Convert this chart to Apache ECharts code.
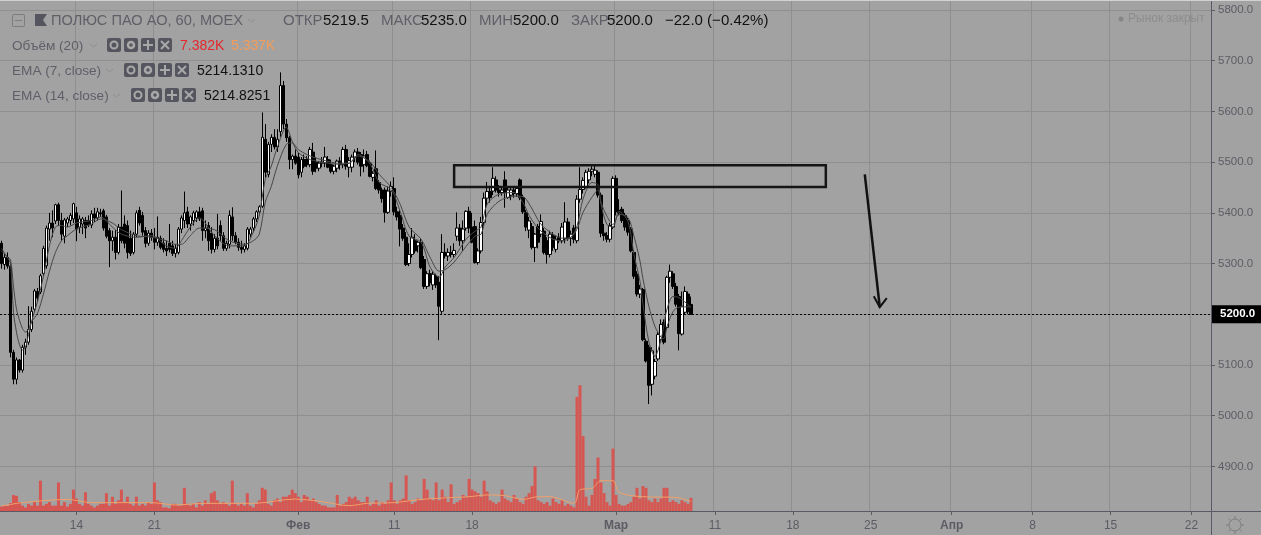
<!DOCTYPE html>
<html><head><meta charset="utf-8">
<style>html,body{margin:0;padding:0;background:#a2a2a2}#c{width:1261px;height:535px}</style>
<script src="https://cdn.jsdelivr.net/npm/echarts@6/dist/echarts.min.js"></script>
</head><body><div id="c"></div>
<script>
// open, high, low, close per hourly bar
const ohlc = [
[5340,5345,5290,5300],[5298,5320,5288,5312],[5312,5322,5290,5295],[5295,5300,5115,5125],[5125,5130,5062,5072],
[5072,5115,5062,5110],[5110,5112,5085,5090],[5090,5140,5085,5135],[5135,5152,5120,5145],[5145,5216,5140,5170],
[5170,5215,5165,5206],[5210,5250,5205,5246],[5245,5252,5225,5232],[5244,5280,5240,5276],[5280,5335,5275,5330],
[5296,5375,5290,5370],[5368,5400,5345,5380],[5380,5405,5352,5370],[5384,5418,5378,5416],[5416,5420,5375,5385],
[5385,5400,5345,5358],[5354,5390,5340,5386],[5380,5392,5372,5388],[5385,5400,5375,5395],[5388,5420,5380,5418],
[5400,5412,5344,5368],[5372,5395,5360,5388],[5378,5392,5358,5388],[5385,5392,5350,5370],[5385,5395,5372,5376],
[5376,5405,5370,5398],[5398,5410,5382,5390],[5390,5410,5385,5402],[5400,5408,5392,5398],[5404,5408,5365,5370],
[5392,5396,5350,5354],[5365,5370,5293,5345],[5345,5365,5325,5352],[5352,5366,5308,5322],[5322,5378,5318,5372],
[5372,5444,5340,5345],[5378,5395,5330,5340],[5375,5385,5310,5322],[5350,5365,5315,5320],[5322,5362,5318,5358],
[5358,5405,5352,5400],[5405,5412,5375,5380],[5395,5402,5355,5362],[5365,5372,5332,5340],[5340,5366,5335,5360],
[5360,5368,5345,5352],[5352,5370,5328,5342],[5342,5393,5335,5352],[5350,5355,5328,5332],[5340,5350,5322,5328],
[5330,5345,5315,5325],[5340,5378,5322,5328],[5335,5345,5315,5320],[5320,5338,5312,5330],[5322,5372,5318,5368],
[5368,5395,5360,5390],[5385,5442,5370,5400],[5402,5412,5370,5378],[5378,5395,5365,5392],[5385,5404,5375,5400],
[5390,5405,5382,5402],[5402,5412,5384,5388],[5404,5410,5345,5365],[5365,5385,5350,5370],[5375,5382,5325,5345],
[5360,5372,5320,5328],[5328,5358,5322,5350],[5350,5398,5328,5335],[5375,5385,5345,5355],[5355,5362,5325,5330],
[5330,5345,5325,5340],[5338,5405,5330,5395],[5392,5411,5345,5355],[5355,5362,5338,5342],[5342,5350,5325,5332],
[5332,5345,5320,5328],[5328,5340,5322,5335],[5330,5372,5326,5368],[5358,5372,5352,5368],[5370,5392,5362,5388],
[5388,5405,5382,5402],[5402,5415,5395,5412],[5413,5598,5410,5549],[5545,5575,5470,5480],[5476,5540,5470,5535],
[5535,5555,5520,5549],[5549,5565,5525,5530],[5530,5565,5520,5545],[5560,5677,5550,5651],[5651,5660,5565,5575],
[5575,5585,5540,5548],[5548,5552,5486,5505],[5505,5515,5486,5512],[5512,5525,5495,5498],[5510,5518,5468,5475],
[5480,5510,5470,5505],[5505,5515,5488,5492],[5505,5512,5490,5495],[5495,5530,5490,5525],[5520,5538,5475,5482],
[5500,5510,5480,5488],[5488,5502,5482,5498],[5498,5510,5490,5500],[5498,5530,5490,5510],[5505,5512,5488,5490],
[5495,5505,5478,5482],[5482,5495,5476,5492],[5488,5505,5480,5502],[5502,5510,5485,5495],[5495,5530,5488,5525],
[5525,5534,5485,5492],[5490,5510,5470,5503],[5490,5515,5480,5510],[5510,5525,5500,5520],[5520,5528,5495,5500],
[5515,5520,5472,5492],[5495,5525,5480,5512],[5515,5522,5490,5493],[5498,5503,5470,5472],[5470,5482,5462,5478],
[5487,5523,5445,5448],[5460,5465,5438,5445],[5445,5450,5420,5428],[5445,5450,5381,5401],[5401,5452,5398,5443],
[5443,5462,5432,5452],[5448,5470,5395,5402],[5402,5412,5385,5392],[5395,5405,5334,5368],[5370,5378,5345,5350],
[5352,5362,5295,5298],[5300,5340,5295,5318],[5318,5370,5312,5352],[5345,5358,5320,5325],[5335,5345,5322,5342],
[5342,5350,5289,5292],[5308,5315,5250,5255],[5255,5285,5250,5280],[5280,5288,5255,5262],[5258,5285,5248,5279],
[5275,5280,5252,5258],[5263,5275,5149,5216],[5206,5358,5200,5322],[5322,5340,5310,5315],[5315,5330,5305,5322],
[5322,5335,5312,5318],[5318,5340,5312,5326],[5354,5401,5345,5370],[5370,5378,5335,5345],[5345,5385,5325,5368],
[5370,5405,5365,5403],[5403,5412,5360,5370],[5372,5400,5340,5342],[5373,5385,5300,5302],[5302,5330,5298,5325],
[5325,5392,5320,5381],[5381,5440,5375,5429],[5429,5461,5415,5442],[5442,5450,5420,5430],[5443,5490,5435,5468],
[5465,5472,5440,5445],[5445,5455,5432,5440],[5440,5450,5434,5445],[5465,5482,5410,5440],[5430,5452,5428,5445],
[5435,5450,5425,5445],[5445,5452,5430,5438],[5438,5450,5432,5448],[5465,5468,5425,5430],[5430,5436,5398,5402],
[5400,5406,5364,5372],[5366,5392,5350,5384],[5373,5380,5328,5332],[5332,5360,5303,5358],[5373,5378,5330,5342],
[5358,5397,5352,5383],[5364,5370,5318,5322],[5345,5352,5300,5318],[5318,5365,5312,5358],[5355,5362,5325,5332],
[5328,5355,5322,5348],[5352,5360,5340,5345],[5345,5380,5340,5372],[5350,5421,5340,5382],[5382,5390,5345,5350],
[5350,5365,5335,5358],[5370,5376,5340,5348],[5345,5435,5340,5427],[5427,5490,5420,5446],[5446,5470,5438,5464],
[5452,5485,5448,5480],[5465,5488,5458,5482],[5482,5492,5472,5486],[5476,5496,5470,5484],[5480,5484,5430,5435],
[5435,5440,5352,5360],[5360,5378,5345,5355],[5355,5362,5342,5348],[5348,5380,5342,5375],[5372,5472,5368,5468],
[5468,5474,5395,5402],[5405,5427,5395,5400],[5407,5412,5380,5385],[5395,5400,5365,5372],[5385,5390,5355,5362],
[5368,5372,5322,5325],[5322,5326,5270,5275],[5279,5285,5235,5240],[5240,5258,5232,5250],[5249,5252,5147,5150],
[5147,5152,5105,5108],[5135,5140,5023,5060],[5062,5135,5040,5128],[5078,5112,5072,5107],[5112,5165,5108,5160],
[5150,5190,5145,5180],[5184,5190,5141,5145],[5174,5276,5170,5273],[5273,5298,5262,5285],[5280,5285,5250,5255],
[5255,5262,5215,5220],[5235,5240,5129,5162],[5161,5245,5158,5216],[5204,5255,5200,5245],[5240,5245,5200,5205],
[5219.5,5235,5200,5200]
];
// volume in thousands per bar
const volumes = [
2.5,3,2.8,4.5,9,8.5,5,3,2,4, 3,5,3,17,3,4,5,3,3,16, 3,5,2.5,4,12,7,4,3,10.5,4,
3,2,3,4,4,10,3,8,4,6, 12,5,8,4,3,8,3,4,3,5, 4,16,6,5,2,2,1.5,4,4,3,
3,13,4,3,4,2,5,3,6,4, 10,11,6,4,5,4,3,17,4,3, 4,3,10,3,2,4,6,13,12,4,
3,6,7,5,8,8,9,12,10,8, 5,9,8,6,7,5,4,3,3,2, 2,2,9,3,4,5,8,7,8,6,
5,5,8,3,4,6,3,5,4,6, 16,6,4,6,7,20,6,4,5,7, 6,18,12,7,6,16,6,12,8,5,
15,4,5,6,9,8,18,12,11,10, 8,17,11,6,5,4,5,12,7,6, 5,9,7,5,4,8,10,14,25,6,
5,4,5,3,7,5,4,6,3,4, 3,2,64,70.5,42,8,3,9,18,30, 16,10,5,3,35,9,4,3,3,4,
5,8,13,7,14,13,6,5,7,5, 7,13,13,5,6,5,4,6,5,4, 7.382
];
// EMA readings at selected bars
const emaBars = [0,2,3,4,5,6,7,8,9,10,12,14,16,18,20,22,25,30,33,37,40,45,50,55,58,60,63,66,71,76,81,84,86,88,90,92,95,97,99,103,108,112,116,119,123,126,130,133,136,140,143,146,148,151,155,158,160,162,166,171,174,176,178,180,184,187,190,192,194,197,199,200,202,204,206,209,211,213,214,216,218,220,221,222,224,226,230];
const ema7  = [5325,5312,5300,5204,5165,5140,5130,5135,5160,5185,5225,5275,5335,5372,5375,5372,5380,5385,5392,5372,5358,5352,5355,5335,5330,5345,5372,5390,5355,5335,5335,5362,5395,5466,5492,5529,5569,5541,5519,5505,5499,5496,5498,5515,5496,5460,5446,5403,5354,5342,5293,5273,5293,5312,5348,5364,5372,5417,5437,5440,5420,5395,5377,5364,5348,5345,5352,5374,5427,5460,5455,5417,5377,5372,5403,5383,5318,5265,5220,5145,5117,5150,5178,5210,5235,5233,5214.131];
const ema14 = [5330,5312,5308,5255,5210,5188,5172,5165,5170,5185,5202,5240,5285,5322,5345,5355,5368,5378,5388,5380,5367,5355,5352,5345,5338,5338,5355,5370,5367,5345,5338,5345,5358,5421,5452,5492,5535,5538,5525,5512,5503,5498,5498,5512,5500,5476,5450,5417,5372,5348,5312,5285,5288,5303,5334,5354,5358,5397,5423,5433,5432,5418,5397,5377,5358,5350,5352,5368,5401,5431,5445,5421,5393,5377,5397,5391,5354,5305,5270,5215,5176,5155,5152,5175,5205,5214,5214.825];
// volume moving average readings
const volMaBars = [0,7,22,30,50,58,68,76,84,98,107,116,122,131,140,151,156,162,168,174,179,183,191,193,197,200,204,206,214,225,230];
const volMa = [2.8,4.7,6.5,4.7,4.7,3.4,4.3,4.3,4.3,6.7,5.2,3,4.3,4.7,6.5,7.6,8,9,8.6,6.5,8,8,4.3,12,12.7,17,17,10.5,8,7.6,5.337];
// axis
const barCount = 404;
const tickLabels = ['14','21','Фев','11','18','Мар','11','18','25','Апр','8','15','22'];
const tickBars = [25,51,99,131,157,205,238,264,290,317,344,370,397];
const monthLabels = ['Фев','Мар','Апр'];
const priceTicks = [4900,5000,5100,5200,5300,5400,5500,5600,5700,5800];
const lastPrice = 5200;
// drawn annotations
const zoneBars = [151,275], zonePrices = [5494,5451];
const arrowBars = [288,293], arrowPrices = [5476,5214];

const categories = Array.from({length: barCount}, () => '');
tickBars.forEach((b, i) => { categories[b] = tickLabels[i]; });
const keep = (i, v) => v !== '';

const chart = echarts.init(document.getElementById('c'), null, {renderer: 'canvas'});

const DARK = '#5a5a66', FONT = '"Liberation Sans", Arial, sans-serif';
const txt = (text, x, y, fill, size, extra) => ({type: 'text', z: 20, style: Object.assign({text, x, y, fill, font: (size||14) + 'px ' + FONT, textVerticalAlign: 'middle'}, extra||{})});
const ln = (x1, y1, x2, y2, stroke, w) => ({type: 'line', z: 20, shape: {x1, y1, x2, y2}, style: {stroke, lineWidth: w||1}});
function iconSet(x, y) {
  const g = '#a8a8a8', out = [], step = 17;
  [0,1,2,3].forEach(k => {
    const ix = x + k*step, cx = ix + 7, cy = y + 7;
    out.push({type:'rect', z:20, shape:{x:ix, y:y, width:14, height:14, r:2}, style:{fill:'#55555f'}});
    if (k === 0) out.push({type:'circle', z:21, shape:{cx, cy, r:3.5}, style:{fill:'none', stroke:g, lineWidth:2}});
    if (k === 1) out.push({type:'circle', z:21, shape:{cx, cy, r:3}, style:{fill:'none', stroke:g, lineWidth:2.5}});
    if (k === 2) { out.push(Object.assign(ln(cx-5,cy,cx+5,cy,g,2),{z:21})); out.push(Object.assign(ln(cx,cy-5,cx,cy+5,g,2),{z:21})); }
    if (k === 3) { out.push(Object.assign(ln(cx-4,cy-4,cx+4,cy+4,g,2),{z:21})); out.push(Object.assign(ln(cx+4,cy-4,cx-4,cy+4,g,2),{z:21})); }
  });
  return out;
}
const chevron = (x, y) => ({type:'polyline', z:20, shape:{points:[[x,y],[x+3.5,y+3],[x+7,y]]}, style:{fill:'none', stroke:'#8e8e8e', lineWidth:1}});
const gray = '#5f5f68', ink = '#111';
const sunRays = [0,1,2,3,4,5,6,7].map(k => { const a = k*Math.PI/4, c = 1235, d = 525;
  return ln(c+Math.cos(a)*6.5, d+Math.sin(a)*6.5, c+Math.cos(a)*9, d+Math.sin(a)*9, '#7c7c7c', 1); });

const graphics = [
  {type:'rect', z:20, shape:{x:0,y:0,width:1261,height:1}, style:{fill:'#d2d2d2'}},
  ln(1211.5,1,1211.5,535,DARK,1), ln(0,511.5,1261,511.5,DARK,1),
  {type:'rect', z:20, shape:{x:12.5,y:14.5,width:12,height:12,r:1}, style:{fill:'none', stroke:'#7c7c7c'}},
  ln(15,20.5,22,20.5,'#7c7c7c',1),
  {type:'polygon', z:20, shape:{points:[[35,14],[47,14],[43,20],[47,26],[35,26]]}, style:{fill:'#55555f'}},
  txt('ПОЛЮС ПАО АО, 60, МОЕХ', 51, 21, gray, 14.6), chevron(248,19),
  txt('ОТКР', 283, 21, gray, 15), txt('5219.5', 323, 21, ink, 15),
  txt('МАКС', 381, 21, gray, 15), txt('5235.0', 421, 21, ink, 15),
  txt('МИН', 479, 21, gray, 15), txt('5200.0', 513, 21, ink, 15),
  txt('ЗАКР', 571, 21, gray, 15), txt('5200.0', 607, 21, ink, 15),
  txt('−22.0 (−0.42%)', 665, 21, ink, 15),
  txt('Объём (20)', 12, 46, gray, 13.6), chevron(90,44), ...iconSet(107,38),
  txt('7.382K', 180, 46, '#e6262c', 14), txt('5.337K', 231, 46, '#f59c5a', 14),
  txt('EMA (7, close)', 12, 71, gray, 13.6), chevron(106,69), ...iconSet(124,63),
  txt('5214.1310', 197, 71, ink, 14),
  txt('EMA (14, close)', 12, 96, gray, 13.6), chevron(113,94), ...iconSet(131,88),
  txt('5214.8251', 204, 96, ink, 14),
  {type:'circle', z:20, shape:{cx:1121,cy:19,r:2.5}, style:{fill:'#858585'}},
  txt('Рынок закрыт', 1128, 19, '#8d8d8d', 12),
  {type:'circle', z:20, shape:{cx:1235,cy:525,r:6}, style:{fill:'none', stroke:'#7c7c7c', lineWidth:1}},
  ...sunRays
];

const option = {
  animation: false,
  backgroundColor: '#a2a2a2',
  grid: {left: 0, top: 1, width: 1211, height: 510, containLabel: false},
  xAxis: {
    type: 'category', data: categories, boundaryGap: true,
    axisLine: {show: true, lineStyle: {color: DARK}},
    axisTick: {show: true, alignWithLabel: true, interval: keep, length: 4, lineStyle: {color: DARK}},
    axisLabel: {show: true, interval: keep, hideOverlap: false, margin: 9, color: '#5c5c64', fontSize: 12, fontFamily: FONT,
      formatter: v => monthLabels.includes(v) ? '{m|' + v + '}' : v,
      rich: {m: {fontWeight: 'bold', color: '#5c5c64', fontSize: 12, fontFamily: FONT}}},
    splitLine: {show: true, interval: keep, lineStyle: {color: '#8f8f8f', width: 1}}
  },
  yAxis: [{
    type: 'value', position: 'right', min: 4812.2, max: 5817.7, scale: true,
    axisLine: {show: true, lineStyle: {color: DARK}},
    axisTick: {show: true, length: 4, lineStyle: {color: DARK}, customValues: priceTicks},
    axisLabel: {show: true, margin: 7, color: '#5c5c64', fontSize: 11.5, fontFamily: FONT, customValues: priceTicks,
      formatter: v => v.toFixed(1)},
    splitLine: {show: true, lineStyle: {color: '#8f8f8f', width: 1}}
  }, {
    type: 'value', min: 0, max: 286, show: false, splitLine: {show: false}
  }],
  series: [{
    type: 'bar', name: 'Объём', yAxisIndex: 1, data: volumes, barWidth: 3, z: 2,
    itemStyle: {color: '#d65652'}, silent: true
  }, {
    type: 'line', name: 'Объём MA', yAxisIndex: 1, data: volMaBars.map((b, i) => [b, volMa[i]]),
    showSymbol: false, smooth: 0.3, z: 3, lineStyle: {color: '#f2a06a', width: 1}, silent: true
  }, {
    type: 'candlestick', name: 'ПОЛЮС', yAxisIndex: 0, z: 4, barWidth: 3, silent: true,
    data: ohlc.map(r => [r[0], r[3], r[2], r[1]]),
    itemStyle: {color: '#ffffff', color0: '#000000', borderColor: '#000000', borderColor0: '#000000', borderColorDoji: '#000000', borderWidth: 1},
    markLine: {
      silent: true, symbol: 'none', animation: false,
      lineStyle: {color: '#000', type: [2, 2], width: 1},
      data: [{yAxis: lastPrice}],
      label: {position: 'end', distance: 1, formatter: lastPrice.toFixed(1), color: '#fff', fontWeight: 'bold', fontSize: 11.5, fontFamily: FONT,
        backgroundColor: '#000', padding: [3, 8, 3, 8]}
    }
  }, {
    type: 'line', name: 'EMA 14', yAxisIndex: 0, z: 5, data: emaBars.map((b, i) => [b, ema14[i]]),
    showSymbol: false, smooth: 0.3, lineStyle: {color: '#474747', width: 1}, silent: true
  }, {
    type: 'line', name: 'EMA 7', yAxisIndex: 0, z: 5, data: emaBars.map((b, i) => [b, ema7[i]]),
    showSymbol: false, smooth: 0.3, lineStyle: {color: '#474747', width: 1}, silent: true
  }, {
    type: 'custom', name: 'Разметка', yAxisIndex: 0, z: 6, silent: true, data: [0], clip: false,
    renderItem: (params, api) => {
      const a = api.coord([zoneBars[0], zonePrices[0]]), b = api.coord([zoneBars[1], zonePrices[1]]);
      const s = api.coord([arrowBars[0], arrowPrices[0]]), e = api.coord([arrowBars[1], arrowPrices[1]]);
      const dark = {stroke: '#111', lineWidth: 2.5, fill: null};
      return {type: 'group', children: [
        {type: 'rect', shape: {x: a[0], y: a[1], width: b[0]-a[0], height: b[1]-a[1]}, style: {stroke: '#151515', lineWidth: 2.5, fill: 'transparent'}},
        {type: 'line', shape: {x1: s[0], y1: s[1], x2: e[0], y2: e[1]}, style: dark},
        {type: 'polyline', shape: {points: [[e[0]-6, e[1]-11], [e[0], e[1]], [e[0]+7, e[1]-9]]}, style: {stroke: '#111', lineWidth: 2, fill: 'none'}}
      ]};
    }
  }],
  graphic: {elements: graphics}
};
chart.setOption(option);
</script></body></html>
